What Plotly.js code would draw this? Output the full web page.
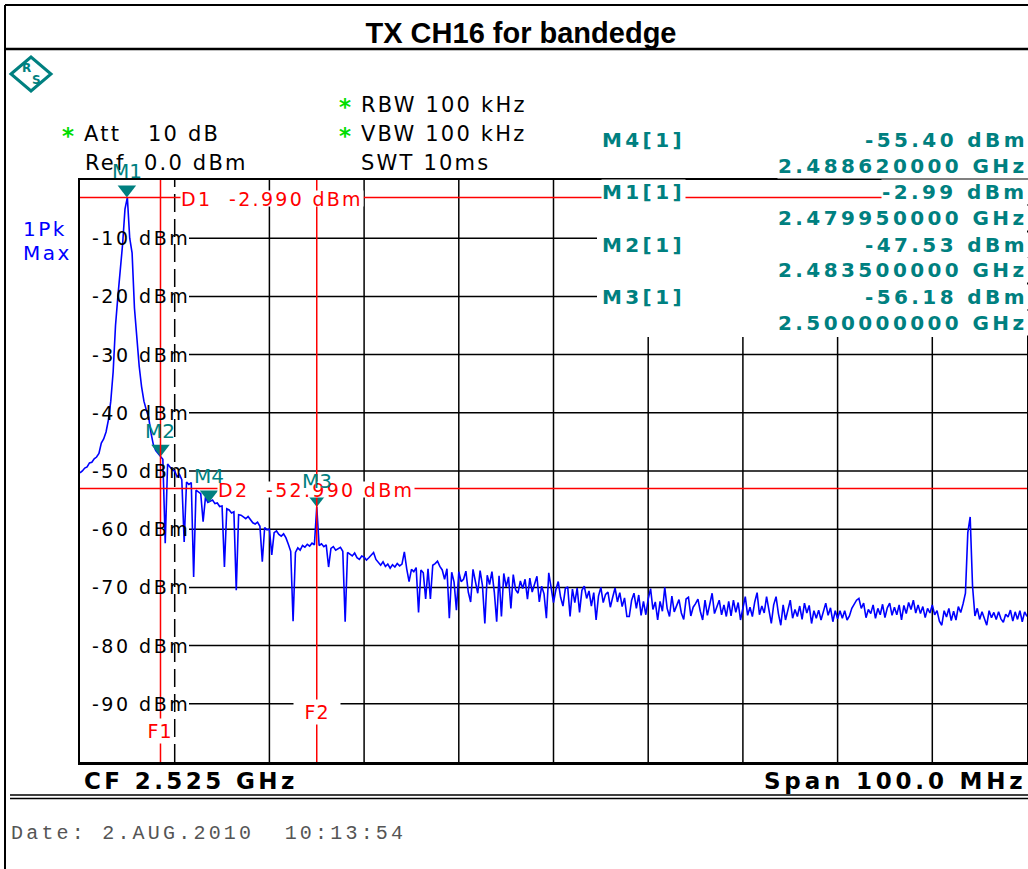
<!DOCTYPE html>
<html><head><meta charset="utf-8">
<script src="https://cdn.plot.ly/plotly-3.0.1.min.js"></script>
<style>html,body{margin:0;padding:0;background:#fff;overflow:hidden}</style>
</head><body><div id="chart" style="width:1028px;height:869px"></div>
<script>
// ---------------- data ----------------
const chartTitle = 'TX CH16 for bandedge';
const spanStartGHz = 2.475, spanStopGHz = 2.575;
const refLevel = 0, bottomLevel = -100;
const sweepStartGHz = 2.475;
const sweepStepGHz = 0.00025;

// trace levels (dBm), one per sweep point
const levelsPeak = [
 -50.3, -50.0, -49.5, -49.3, -48.6, -48.5, -47.9, -47.6, -47.0, -45.2,
 -44.5, -43.3, -41.2, -38.0, -33.0, -25.0, -20.0, -16.0, -11.0, -5.0,
 -2.99, -10.0, -12.5, -22.0, -27.5, -32.0, -35.5, -38.0, -39.5, -40.8,
 -43.5, -45.5, -46.5, -47.0, -47.53, -48.0, -62.4, -48.8, -49.3, -49.8,
 -50.0];
const levelsNearBand = [
 -51.0, -50.6, -51.5, -62.2, -51.9, -52.3, -52.0, -68.2, -53.3, -53.6,
 -53.9, -58.7, -54.5, -55.4, -55.2, -55.0, -55.6, -55.5, -56.1, -56.0,
 -66.5, -56.5, -56.7, -57.2, -57.0, -70.5, -57.5, -57.6, -57.9, -58.2,
 -57.8, -58.4, -58.9, -59.1, -58.8, -59.5, -65.6, -59.7, -60.1, -60.0,
 -64.4, -60.6, -60.3, -60.9, -61.2, -60.8, -61.5, -62.6, -63.8, -75.8,
 -64.0, -63.2, -63.6, -62.8, -63.1, -62.6, -62.9, -62.4, -62.7, -56.18,
 -62.8, -62.5, -63.0, -62.7, -66.5, -63.3, -63.0, -63.6, -63.4, -63.1,
 -63.8, -75.9];
const levelsMid = [
 -64.0, -64.3, -64.6, -64.1, -64.9, -65.2, -64.6, -64.8, -65.3, -64.9,
 -64.5, -64.0, -65.2, -65.8, -66.2, -65.6, -66.4, -66.0, -66.7, -66.1,
 -66.5, -65.9, -66.3, -66.0, -63.9, -66.8, -69.0, -66.9, -67.3, -66.6,
 -74.3, -67.0, -67.5, -72.0, -66.8, -72.0, -66.2, -65.9, -65.5, -66.4,
 -67.0, -68.6, -66.8, -75.3, -67.4, -69.1, -73.9, -67.3, -69.0, -68.6,
 -67.2, -70.8, -72.5, -66.9, -68.8, -71.0, -67.1, -69.7, -76.2, -67.9,
 -69.5, -67.3, -70.8, -75.9, -68.0, -75.0, -67.6, -69.9, -68.2, -73.6,
 -67.8, -70.4, -71.0, -68.9, -70.2, -68.6, -72.0, -68.4, -70.8, -69.3,
 -68.1, -72.5, -69.8, -71.1, -75.3, -67.5, -70.0, -72.6, -70.4, -69.0,
 -71.7, -73.2, -70.2, -69.9, -75.0, -70.3, -72.6, -70.1, -74.3, -70.5,
 -69.8, -71.9, -70.6, -73.2, -70.9, -75.6, -71.5, -70.0, -72.6, -71.2,
 -70.8, -73.4, -71.7, -70.1, -72.5, -70.9, -73.3, -71.8, -75.0];
const levelsFar = [
 -75.0, -72.2, -71.0, -73.6, -71.3, -74.8, -72.4, -74.7, -72.0, -70.2,
 -73.8, -72.5, -75.6, -72.4, -74.1, -70.0, -73.6, -75.0, -71.5, -74.2,
 -73.0, -72.1, -74.4, -75.5, -72.0, -71.7, -74.9, -73.4, -72.8, -72.0,
 -74.1, -75.6, -72.2, -74.8, -72.9, -71.0, -74.5, -73.2, -72.2, -74.7,
 -73.0, -75.0, -72.4, -74.9, -72.2, -74.3, -72.6, -75.6, -73.3, -71.6,
 -74.8, -73.4, -75.0, -72.5, -70.9, -74.7, -73.2, -74.4, -71.6, -74.0,
 -76.2, -73.0, -71.6, -74.5, -76.5, -73.0, -75.6, -73.9, -72.2, -75.3,
 -73.8, -75.0, -73.2, -75.5, -72.7, -74.4, -73.1, -76.2, -74.0, -75.3,
 -73.9, -75.6, -74.0, -72.7, -74.8, -73.5, -75.9, -74.0, -75.4, -74.0,
 -75.3, -74.0, -75.6, -74.9, -73.6, -73.0, -72.2, -71.9, -73.6, -72.7,
 -75.2, -73.8, -74.5, -73.0, -75.3, -73.6, -74.7, -72.9, -75.2, -73.5,
 -72.7, -74.8, -73.4, -74.7, -73.0, -75.6, -73.1, -74.5, -72.6, -73.8,
 -72.2, -74.4, -73.0, -74.5, -73.3, -75.2, -73.6, -74.4, -73.0, -74.7,
 -74.0, -75.8, -76.5, -74.0, -75.1, -73.6, -75.7, -74.1, -75.6, -73.3,
 -74.3, -72.8, -71.0, -60.6, -57.9, -69.8, -74.9, -73.6, -75.5, -74.2,
 -75.4, -76.5, -74.0, -75.2, -74.3, -75.5, -74.2, -75.4, -76.0, -74.6,
 -75.1, -73.9, -75.8, -74.2, -75.5, -74.0, -75.9, -74.2, -75.0];

const markerNames = ['M1', 'M2', 'M3', 'M4'];
const markerFreqGHz = [2.47995, 2.4835, 2.5, 2.48862];
const markerLevelDbm = [-2.99, -47.53, -56.18, -55.40];
const markerTableOrder = ['M4', 'M1', 'M2', 'M3'];

const displayLineNames = ['D1', 'D2'];
const displayLineDbm = [-2.99, -52.99];
const freqLineNames = ['F1', 'F2'];
const freqLineGHz = [2.4835, 2.5];

const gridFreqGHz = [2.485, 2.495, 2.505, 2.515, 2.525, 2.535, 2.545, 2.555, 2.565];
const gridLevelDbm = [-10, -20, -30, -40, -50, -60, -70, -80, -90];

const headerTexts = ['Att', '10 dB', 'Ref', '0.0 dBm', 'RBW 100 kHz', 'VBW 100 kHz', 'SWT 10ms'];
const headerStarred = [true, false, false, false, true, true, false];
const traceLabel = ['1Pk', 'Max'];
const dateText = 'Date: 2.AUG.2010\u00a0\u00a010:13:54';

// ---------------- layout helpers ----------------
const PL = 80, PR = 1027, PT = 180, PB = 762;
const fx = p => (p - PL) / (PR - PL);
const fy = p => (PB - p) / (PB - PT);
const ls = (s, n) => `<span style="letter-spacing:${n}px">${s}</span>`;
const TEAL = '#008080', RED = '#ff0000', BLUE = '#0000ff', GREEN = '#00dd00';
const DV = 'DejaVu Sans';

function note(text, x, y, o) {
  return Object.assign({text, x: fx(x), y: fy(y), xref: 'paper', yref: 'paper', showarrow: false,
    xanchor: 'left', yanchor: 'middle', borderpad: 0,
    font: {family: DV, size: 21, color: '#000'}}, o || {});
}

const levels = [].concat(levelsPeak, levelsNearBand, levelsMid, levelsFar);

// ---------------- shapes ----------------
function seg(x0, y0, x1, y1, xref, yref, color, width, dash, layer) {
  return {type: 'line', x0, y0, x1, y1, xref, yref,
    line: {color, width, dash: dash || 'solid'}, layer: layer || 'above'};
}
const shapes = [];
shapes.push(seg(fx(5), fy(5), fx(1028), fy(5), 'paper', 'paper', '#000', 2));
shapes.push(seg(fx(5), fy(49), fx(1028), fy(49), 'paper', 'paper', '#000', 2.5));
shapes.push(seg(fx(5), fy(5), fx(5), fy(869), 'paper', 'paper', '#000', 2));
shapes.push(seg(fx(10), fy(795), fx(1028), fy(795), 'paper', 'paper', '#000', 1.5));
shapes.push(seg(fx(10), fy(798.5), fx(1028), fy(798.5), 'paper', 'paper', '#000', 1.5));
gridLevelDbm.forEach(v => shapes.push(
  seg(fx(189), v, v >= -20 ? fx(597) : 1, v, 'paper', 'y', '#000', 1.5, null, 'below')));
gridFreqGHz.forEach((f, k) => shapes.push(
  seg(f, 0, f, f > 2.53 ? fy(337) : 1, 'x', 'paper', '#000', 1.5, k === 0 ? '18px,7px' : null, 'below')));
displayLineDbm.forEach(v => shapes.push(seg(0, v, 1, v, 'paper', 'y', RED, 1.5)));
freqLineGHz.forEach(f => shapes.push(seg(f, 0, f, 1, 'x', 'paper', RED, 1.5)));
// R&S logo diamond
shapes.push({type: 'path', xref: 'paper', yref: 'paper',
  path: `M ${fx(11)} ${fy(74)} L ${fx(31)} ${fy(57)} L ${fx(51)} ${fy(74)} L ${fx(31)} ${fy(91)} Z`,
  line: {color: TEAL, width: 3}, layer: 'above'});

// ---------------- annotations ----------------
const ann = [];
// header
const headerPos = [[83, 134], [147, 134], [84, 163], [143, 163], [360, 105], [360, 134], [360, 163]];
headerTexts.forEach((t, k) => {
  ann.push(note(ls(t, 2.2), headerPos[k][0], headerPos[k][1]));
  if (headerStarred[k]) ann.push(note('*', headerPos[k][0] - 22, headerPos[k][1] + 2,
    {font: {family: DV, size: 23, color: GREEN, weight: 'bold'}}));
});
ann.push(note(ls(traceLabel[0], 2.5), 22, 228.5, {font: {family: DV, size: 20, color: BLUE}}));
ann.push(note(ls(traceLabel[1], 2.5), 22, 253, {font: {family: DV, size: 20, color: BLUE}}));
// logo letters
ann.push(note('<b>R</b>', 26, 68, {xanchor: 'center', font: {family: DV, size: 12, color: TEAL}}));
ann.push(note('<b>S</b>', 36, 80, {xanchor: 'center', font: {family: DV, size: 12, color: TEAL}}));

// y tick labels
gridLevelDbm.forEach(v => ann.push({text: ls(`${v} dBm`, 2.5), x: fx(90), xref: 'paper', y: v, yref: 'y',
  xanchor: 'left', yanchor: 'middle', showarrow: false, font: {family: DV, size: 19, color: '#000'}}));

// display line labels
const dLabelX = [180, 217];
displayLineNames.forEach((n, k) => ann.push({
  text: ls(`${n}\u00a0\u00a0${displayLineDbm[k].toFixed(3)} dBm`, 2.3),
  x: fx(dLabelX[k]), xref: 'paper', y: displayLineDbm[k], yref: 'y', yshift: -1,
  xanchor: 'left', yanchor: 'middle', showarrow: false, bgcolor: '#fff', borderpad: 0,
  height: 15, font: {family: DV, size: 19, color: RED}}));
// frequency line labels
const fLabelY = [731, 712];
freqLineNames.forEach((n, k) => ann.push({
  text: ls(n, 1), x: freqLineGHz[k], xref: 'x', y: fy(fLabelY[k]), yref: 'paper',
  xanchor: 'center', yanchor: 'middle', showarrow: false, bgcolor: '#fff',
  width: k === 1 ? 46 : 26, height: 24, borderpad: 0,
  font: {family: DV, size: 19, color: RED}}));

// marker table
const infoFont = {family: DV, size: 20, color: TEAL, weight: 'bold'};
markerTableOrder.forEach((n, row) => {
  const k = markerNames.indexOf(n);
  const y = 140 + 52.3 * row;
  ann.push(note(ls(`<b>${n}[1]</b>`, 3.4), 601, y, {font: infoFont, bgcolor: '#fff'}));
  ann.push(note(ls(`<b>${markerLevelDbm[k].toFixed(2)} dBm</b>`, 3.4), 1029, y,
    {xanchor: 'right', font: infoFont, bgcolor: '#fff'}));
  ann.push(note(ls(`<b>${markerFreqGHz[k].toFixed(9)} GHz</b>`, 3.4), 1029, y + 25.7,
    {xanchor: 'right', font: infoFont, bgcolor: '#fff'}));
});

// bottom
const cf = ((spanStartGHz + spanStopGHz) / 2).toFixed(3);
const span = ((spanStopGHz - spanStartGHz) * 1000).toFixed(1);
ann.push(note(ls(`<b>CF ${cf} GHz</b>`, 3.4), 83, 781, {font: {family: DV, size: 23, color: '#000'}}));
ann.push(note(ls(`<b>Span ${span} MHz</b>`, 3.8), 1027, 781,
  {xanchor: 'right', font: {family: DV, size: 23, color: '#000'}}));
ann.push(note(ls(dateText, 3.2), 10, 833, {font: {family: 'Liberation Mono', size: 20, color: '#555'}}));

// marker labels
markerNames.forEach((n, k) => ann.push({
  text: n, x: markerFreqGHz[k], xref: 'x', y: markerLevelDbm[k], yref: 'y', yshift: 26,
  xanchor: 'center', yanchor: 'middle', showarrow: false,
  font: {family: DV, size: 20, color: TEAL}}));

// ---------------- traces ----------------
const markerOffsetDb = 1.37; // lifts triangle so its tip sits on the marker level
const traces = [
  {type: 'scatter', mode: 'lines', x0: sweepStartGHz, dx: sweepStepGHz, y: levels,
   line: {color: BLUE, width: 1.6, shape: 'linear'}, hoverinfo: 'skip'},
  {type: 'scatter', mode: 'markers', x: markerFreqGHz, y: markerLevelDbm, yaxis: 'y2',
   marker: {symbol: 'triangle-down', size: 16, color: TEAL}, cliponaxis: false, hoverinfo: 'skip'}
];

const axisCommon = {showgrid: false, zeroline: false, showticklabels: false, ticks: '',
  showline: true, mirror: true, linecolor: '#000', linewidth: 2.5, fixedrange: true};
const layout = {
  width: 1028, height: 869,
  margin: {l: PL, r: 1028 - PR, t: PT, b: 869 - PB, pad: 0},
  paper_bgcolor: '#fff', plot_bgcolor: 'rgba(0,0,0,0)', showlegend: false,
  font: {family: DV, size: 17, color: '#000'},
  title: {text: '<b>' + chartTitle + '</b>', x: 521 / 1028, xanchor: 'center',
    y: 1 - 33 / 869, yanchor: 'middle', font: {family: 'Liberation Sans', size: 29, color: '#000'}},
  xaxis: Object.assign({range: [spanStartGHz, spanStopGHz]}, axisCommon),
  yaxis: Object.assign({range: [bottomLevel, refLevel]}, axisCommon),
  yaxis2: {overlaying: 'y', range: [bottomLevel - markerOffsetDb, refLevel - markerOffsetDb], visible: false},
  shapes, annotations: ann
};
Plotly.newPlot('chart', traces, layout, {staticPlot: true, displayModeBar: false});
</script></body></html>
